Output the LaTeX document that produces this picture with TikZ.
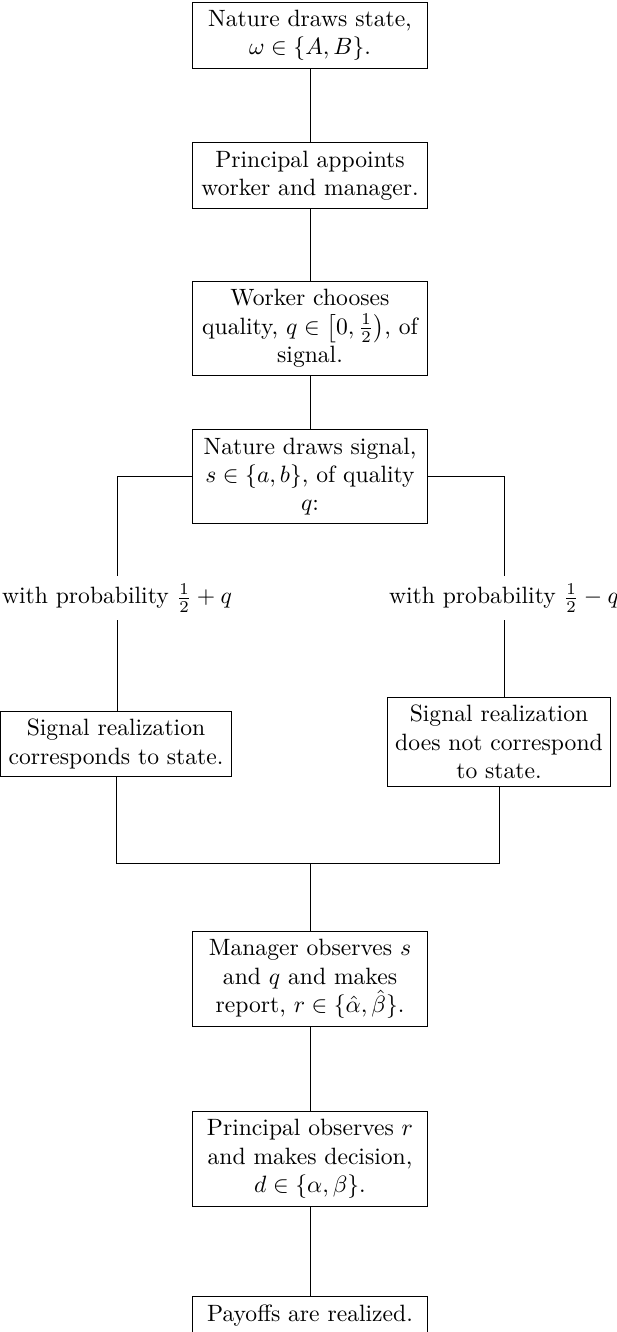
\documentclass[tikz,border=0pt]{standalone}
\usepackage{amsmath}
\begin{document}
\begin{tikzpicture}[
    x=0.4237pt, y=-0.4237pt,
    stagebox/.style={draw, align=flush center, text width=93pt, inner sep=3.33pt},
    sidebox/.style={draw, align=center, inner sep=3.33pt},
    problabel/.style={inner sep=3.33pt},
    link/.style={line width=0.4pt}
  ]
  \useasboundingbox (0,0) rectangle (616,1332);

  % main sequence of stages
  \node[stagebox] (state)   at (310,35.5)  {Nature draws state, $\omega\in\{A,B\}$.};
  \node[stagebox] (appoint) at (310,175.5) {Principal appoints worker and manager.};
  \node[stagebox] (quality) at (310,328.5) {Worker chooses quality, $q\in\left[0,\frac{1}{2}\right)$, of signal.};
  \node[stagebox] (signal)  at (310,476.5) {Nature draws signal, $s\in\{a,b\}$, of quality $q$:};

  % the two branches
  \node[problabel] (probL) at (117,598) {with probability $\frac{1}{2}+q$};
  \node[problabel] (probR) at (504,598) {with probability $\frac{1}{2}-q$};
  \node[sidebox] (match)    at (116,744) {Signal realization\\corresponds to state.};
  \node[sidebox] (mismatch) at (499,742) {Signal realization\\does not correspond\\to state.};

  \coordinate (merge) at (310,863);

  \node[stagebox] (report)   at (310,979)    {Manager observes $s$ and $q$ and makes report, $r\in\{\hat{\alpha},\hat{\beta}\}$.};
  \node[stagebox] (decision) at (310,1159)   {Principal observes $r$ and makes decision, $d\in\{\alpha,\beta\}$.};
  \node[stagebox] (payoff)   at (310,1315.5) {Payoffs are realized.};

  % connectors
  \draw[link] (state.south) -- (appoint.north);
  \draw[link] (appoint.south) -- (quality.north);
  \draw[link] (quality.south) -- (signal.north);

  \draw[link] (signal.west) -| (probL.north);
  \draw[link] (probL.south) -- (probL.south |- match.north);
  \draw[link] (signal.east) -| (probR.north);
  \draw[link] (probR.south) -- (probR.south |- mismatch.north);

  \draw[link] (match.south) |- (merge) -| (mismatch.south);
  \draw[link] (merge) -- (report.north);
  \draw[link] (report.south) -- (decision.north);
  \draw[link] (decision.south) -- (payoff.north);
\end{tikzpicture}
\end{document}
